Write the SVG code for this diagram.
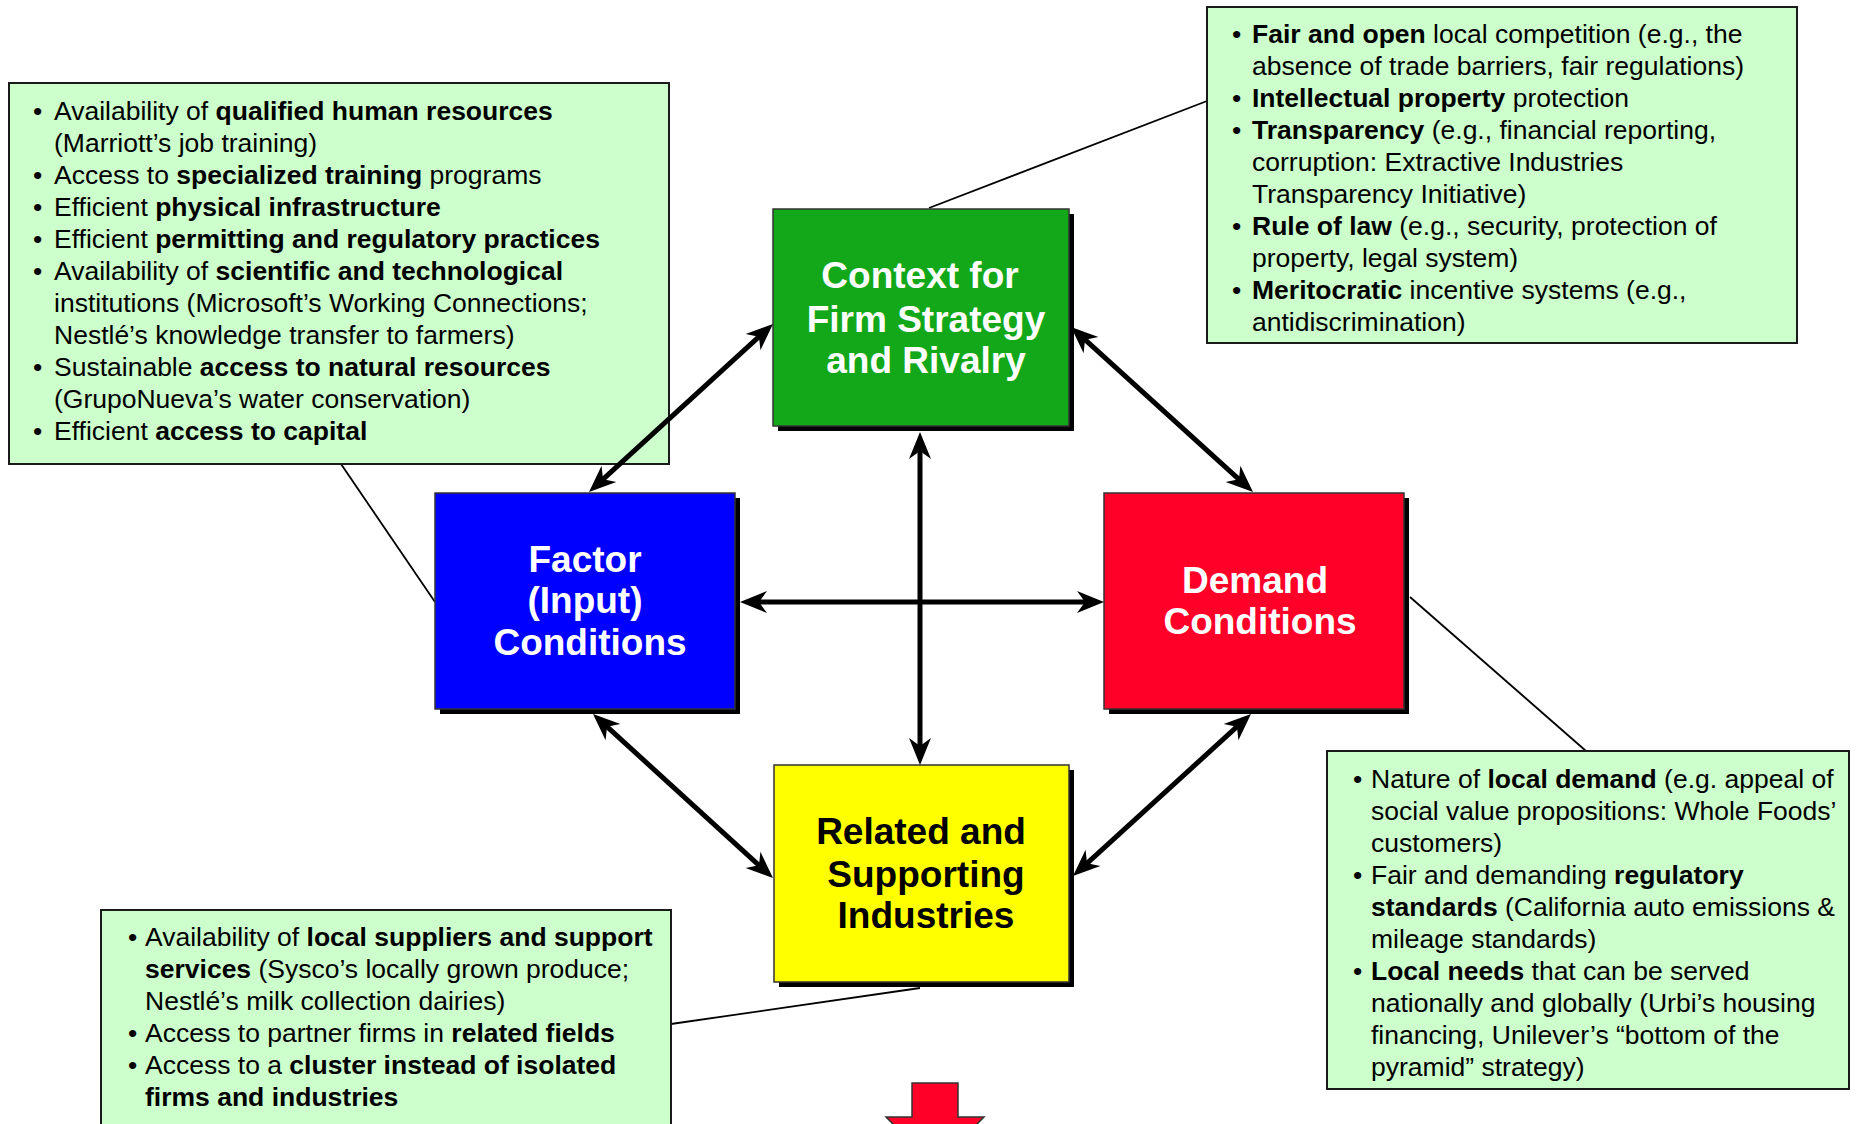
<svg xmlns="http://www.w3.org/2000/svg" width="1856" height="1124" viewBox="0 0 1856 1124">
<style>
text{font-family:"Liberation Sans",Arial,Helvetica,sans-serif;}
.ct{font-size:26.5px;fill:#000;}
.b{font-weight:bold;}
.bx{font-size:37px;font-weight:bold;text-anchor:middle;}
.w{fill:#fff;}
.k{fill:#000;}
.callout{fill:#CCFFCC;stroke:#1a1a1a;stroke-width:2;}
.shadow{fill:#000;}
.box{stroke:#333;stroke-width:1.5;}
.thin{stroke:#000;stroke-width:1.8;fill:none;}
.thick{stroke:#000;stroke-width:5;fill:none;marker-start:url(#arr);marker-end:url(#arr);}
</style>
<defs>
<marker id="arr" viewBox="-18 -12 30 24" refX="0" refY="0" markerWidth="30" markerHeight="24" markerUnits="userSpaceOnUse" orient="auto-start-reverse">
<path d="M10,0 L-17,-11 L-9,0 L-17,11 Z" fill="#000"/>
</marker>
</defs>
<rect width="1856" height="1124" fill="#fff"/>

<g id="leaders">
<line class="thin" x1="929" y1="208" x2="1207" y2="101"/>
<line class="thin" x1="341" y1="464" x2="435" y2="602"/>
<line class="thin" x1="1410" y1="597" x2="1586" y2="751"/>
<line class="thin" x1="920" y1="988" x2="671" y2="1024"/>
</g>

<g id="callout-factor">
<rect class="callout" x="9" y="83" width="660" height="381"/>
<text class="ct" x="33" y="120">•</text><text class="ct" x="54" y="120">Availability of <tspan class="b">qualified human resources</tspan></text>
<text class="ct" x="54" y="152">(Marriott’s job training)</text>
<text class="ct" x="33" y="184">•</text><text class="ct" x="54" y="184">Access to <tspan class="b">specialized training</tspan> programs</text>
<text class="ct" x="33" y="216">•</text><text class="ct" x="54" y="216">Efficient <tspan class="b">physical infrastructure</tspan></text>
<text class="ct" x="33" y="248">•</text><text class="ct" x="54" y="248">Efficient <tspan class="b">permitting and regulatory practices</tspan></text>
<text class="ct" x="33" y="280">•</text><text class="ct" x="54" y="280">Availability of <tspan class="b">scientific and technological</tspan></text>
<text class="ct" x="54" y="312">institutions (Microsoft’s Working Connections;</text>
<text class="ct" x="54" y="344">Nestlé’s knowledge transfer to farmers)</text>
<text class="ct" x="33" y="376">•</text><text class="ct" x="54" y="376">Sustainable <tspan class="b">access to natural resources</tspan></text>
<text class="ct" x="54" y="408">(GrupoNueva’s water conservation)</text>
<text class="ct" x="33" y="440">•</text><text class="ct" x="54" y="440">Efficient <tspan class="b">access to capital</tspan></text>
</g>

<g id="callout-context">
<rect class="callout" x="1207" y="7" width="590" height="336"/>
<text class="ct" x="1232" y="43">•</text><text class="ct" x="1252" y="43"><tspan class="b">Fair and open</tspan> local competition (e.g., the</text>
<text class="ct" x="1252" y="75">absence of trade barriers, fair regulations)</text>
<text class="ct" x="1232" y="107">•</text><text class="ct" x="1252" y="107"><tspan class="b">Intellectual property</tspan> protection</text>
<text class="ct" x="1232" y="139">•</text><text class="ct" x="1252" y="139"><tspan class="b">Transparency</tspan> (e.g., financial reporting,</text>
<text class="ct" x="1252" y="171">corruption: Extractive Industries</text>
<text class="ct" x="1252" y="203">Transparency Initiative)</text>
<text class="ct" x="1232" y="235">•</text><text class="ct" x="1252" y="235"><tspan class="b">Rule of law</tspan> (e.g., security, protection of</text>
<text class="ct" x="1252" y="267">property, legal system)</text>
<text class="ct" x="1232" y="299">•</text><text class="ct" x="1252" y="299"><tspan class="b">Meritocratic</tspan> incentive systems (e.g.,</text>
<text class="ct" x="1252" y="331">antidiscrimination)</text>
</g>

<g id="callout-demand">
<rect class="callout" x="1327" y="751" width="522" height="338"/>
<text class="ct" x="1353" y="788">•</text><text class="ct" x="1371" y="788">Nature of <tspan class="b">local demand</tspan> (e.g. appeal of</text>
<text class="ct" x="1371" y="820">social value propositions: Whole Foods’</text>
<text class="ct" x="1371" y="852">customers)</text>
<text class="ct" x="1353" y="884">•</text><text class="ct" x="1371" y="884">Fair and demanding <tspan class="b">regulatory</tspan></text>
<text class="ct" x="1371" y="916"><tspan class="b">standards</tspan> (California auto emissions &amp;</text>
<text class="ct" x="1371" y="948">mileage standards)</text>
<text class="ct" x="1353" y="980">•</text><text class="ct" x="1371" y="980"><tspan class="b">Local needs</tspan> that can be served</text>
<text class="ct" x="1371" y="1012">nationally and globally (Urbi’s housing</text>
<text class="ct" x="1371" y="1044">financing, Unilever’s “bottom of the</text>
<text class="ct" x="1371" y="1076">pyramid” strategy)</text>
</g>

<g id="callout-related">
<rect class="callout" x="101" y="910" width="570" height="240"/>
<text class="ct" x="128" y="946">•</text><text class="ct" x="145" y="946">Availability of <tspan class="b">local suppliers and support</tspan></text>
<text class="ct" x="145" y="978"><tspan class="b">services</tspan> (Sysco’s locally grown produce;</text>
<text class="ct" x="145" y="1010">Nestlé’s milk collection dairies)</text>
<text class="ct" x="128" y="1042">•</text><text class="ct" x="145" y="1042">Access to partner firms in <tspan class="b">related fields</tspan></text>
<text class="ct" x="128" y="1074">•</text><text class="ct" x="145" y="1074">Access to a <tspan class="b">cluster instead of isolated</tspan></text>
<text class="ct" x="145" y="1106"><tspan class="b">firms and industries</tspan></text>
</g>

<g id="node-context">
<rect class="shadow" x="778" y="214" width="296" height="217"/>
<rect class="box" x="773" y="209" width="296" height="217" fill="#13A81A"/>
<text class="bx w" x="920" y="288">Context for</text>
<text class="bx w" x="926" y="331.5">Firm Strategy</text>
<text class="bx w" x="926" y="373">and Rivalry</text>
</g>

<g id="node-factor">
<rect class="shadow" x="440" y="498" width="300" height="216"/>
<rect class="box" x="435" y="493" width="300" height="216" fill="#0000FF"/>
<text class="bx w" x="585" y="572">Factor</text>
<text class="bx w" x="585" y="613">(Input)</text>
<text class="bx w" x="590" y="655">Conditions</text>
</g>

<g id="node-demand">
<rect class="shadow" x="1109" y="498" width="300" height="216"/>
<rect class="box" x="1104" y="493" width="300" height="216" fill="#FF0029"/>
<text class="bx w" x="1255" y="593">Demand</text>
<text class="bx w" x="1260" y="634">Conditions</text>
</g>

<g id="node-related">
<rect class="shadow" x="779" y="770" width="295" height="217"/>
<rect class="box" x="774" y="765" width="295" height="217" fill="#FFFF00"/>
<text class="bx k" x="921" y="844">Related and</text>
<text class="bx k" x="926" y="887">Supporting</text>
<text class="bx k" x="926" y="928">Industries</text>
</g>

<g id="connectors">
<line class="thick" x1="765.6" y1="330.7" x2="596.4" y2="485.3"/>
<line class="thick" x1="1078.4" y1="333.7" x2="1245.6" y2="485.3"/>
<line class="thick" x1="920" y1="442" x2="920" y2="755"/>
<line class="thick" x1="750" y1="602" x2="1094" y2="602"/>
<line class="thick" x1="600.4" y1="720.7" x2="765.6" y2="871.3"/>
<line class="thick" x1="1243.6" y1="720.7" x2="1080.4" y2="869.3"/>
</g>

<g id="down-arrow">
<polygon points="912,1083 958,1083 958,1117 984,1117 935,1166 886,1117 912,1117" fill="#FF0029" stroke="#333" stroke-width="1.5"/>
</g>
</svg>
